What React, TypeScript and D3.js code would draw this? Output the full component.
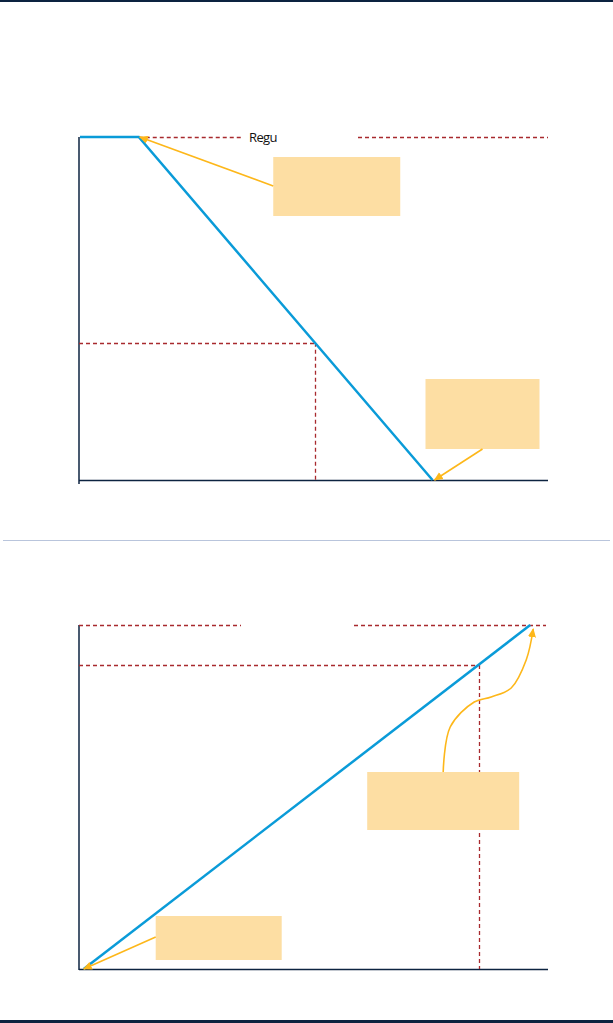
import React from "react";
import * as d3 from "d3";

// chart 1: phase-out line
const top_x = [0, 5, 30];
const top_y = [1, 1, 0];
const top_ref = [20, 0.4];
const top_label = "Regu";

// chart 2: rising line
const bot_x = [1, 96];
const bot_y = [0, 100];
const bot_ref = [85, 88.4];

const NAVY = "#0c2340";
const BLUE = "#0a9bd8";
const RED = "#a82a2e";
const ORANGE = "#fdb71a";
const NOTE = "#fddea3";

const px = (v: number) => Math.round(v) + 0.5;

const App = () => {
  const x1 = d3.scaleLinear().domain([0, 40]).range([80, 550]);
  const y1 = d3.scaleLinear().domain([0, 1]).range([480, 137]);
  const x2 = d3.scaleLinear().domain([0, 100]).range([79, 549]);
  const y2 = d3.scaleLinear().domain([0, 100]).range([969, 625]);

  const pts1 = top_x.map((d, i) => [d, top_y[i]]);
  const pts2 = bot_x.map((d, i) => [d, bot_y[i]]);
  const line1 = d3.line<number[]>().x(d => x1(d[0])).y(d => y1(d[1]));
  const line2 = d3.line<number[]>().x(d => x2(d[0])).y(d => y2(d[1]));

  // annotation boxes: offset from subject point (like d3-annotation)
  const s1 = [x1(5), y1(1)];
  const s2 = [x1(30), y1(0)];
  const s3 = [x2(96), y2(100)];
  const s4 = [x2(1), y2(0)];

  const curve = d3.line().curve(d3.curveCatmullRom);
  const c3 = [[-87, 147], [-80, 102], [-56, 77], [-39, 72], [-19, 63], [-4, 35], [3, 4]]
    .map(d => [s3[0] + d[0], s3[1] + d[1]] as [number, number]);

  const dash = "4,3";
  const dl = { stroke: RED, strokeWidth: 1.3, strokeDasharray: dash };

  return (
    <svg width={613} height={1023} style={{ position: "absolute", left: 0, top: 0 }}>
      <defs>
        <marker id="arr" viewBox="0 0 10 10" refX="9" refY="5" markerWidth="9" markerHeight="9" orient="auto" markerUnits="userSpaceOnUse">
          <path d="M0,0.5L10,5L0,9.5Z" fill={ORANGE} />
        </marker>
      </defs>
      <rect x={0} y={0} width={613} height={2} fill={NAVY} />
      <rect x={0} y={1020} width={613} height={3} fill={NAVY} />
      <line x1={3} x2={610} y1={540.5} y2={540.5} stroke="#b9c5dc" strokeWidth={1} />

      {/* chart 1 */}
      <line x1={79} x2={79} y1={137} y2={484} stroke={NAVY} strokeWidth={1.5} />
      <line x1={79} x2={548} y1={480.5} y2={480.5} stroke={NAVY} strokeWidth={1.5} />
      <line x1={x1(5)} x2={243} y1={px(y1(1))} y2={px(y1(1))} {...dl} />
      <line x1={358} x2={548} y1={px(y1(1))} y2={px(y1(1))} {...dl} />
      <text x={249} y={142} fontFamily="'Open Sans', sans-serif" fontSize={13} letterSpacing={-0.6} fill="#111">{top_label}</text>
      <line x1={79} x2={x1(top_ref[0])} y1={px(y1(top_ref[1]))} y2={px(y1(top_ref[1]))} {...dl} />
      <line x1={px(x1(top_ref[0]))} x2={px(x1(top_ref[0]))} y1={y1(top_ref[1])} y2={480} {...dl} />
      <path d={line1(pts1) || ""} fill="none" stroke={BLUE} strokeWidth={2.5} />

      <rect x={s1[0] + 134.5} y={s1[1] + 20} width={127} height={59} fill={NOTE} />
      <line x1={s1[0] + 134.5} y1={s1[1] + 49} x2={s1[0] + 1} y2={s1[1]} stroke={ORANGE} strokeWidth={1.6} markerEnd="url(#arr)" />
      <rect x={s2[0] - 7} y={s2[1] - 101} width={114} height={70} fill={NOTE} />
      <line x1={s2[0] + 50} y1={s2[1] - 31} x2={s2[0] + 2} y2={s2[1]} stroke={ORANGE} strokeWidth={1.6} markerEnd="url(#arr)" />

      {/* chart 2 */}
      <line x1={79} x2={79} y1={625} y2={970} stroke={NAVY} strokeWidth={1.5} />
      <line x1={79} x2={548} y1={969.5} y2={969.5} stroke={NAVY} strokeWidth={1.5} />
      <line x1={79} x2={241} y1={px(y2(100))} y2={px(y2(100))} {...dl} />
      <line x1={354} x2={546} y1={px(y2(100))} y2={px(y2(100))} {...dl} />
      <line x1={79} x2={x2(bot_ref[0])} y1={px(y2(bot_ref[1]))} y2={px(y2(bot_ref[1]))} {...dl} />
      <line x1={px(x2(bot_ref[0]))} x2={px(x2(bot_ref[0]))} y1={y2(bot_ref[1])} y2={969} {...dl} />
      <path d={line2(pts2) || ""} fill="none" stroke={BLUE} strokeWidth={2.5} />

      <rect x={s3[0] - 163} y={s3[1] + 147} width={152} height={58} fill={NOTE} />
      <path d={curve(c3) || ""} fill="none" stroke={ORANGE} strokeWidth={1.6} markerEnd="url(#arr)" />
      <rect x={s4[0] + 72} y={s4[1] - 53} width={126} height={44} fill={NOTE} />
      <line x1={s4[0] + 72} y1={s4[1] - 32} x2={s4[0]} y2={s4[1]} stroke={ORANGE} strokeWidth={1.6} markerEnd="url(#arr)" />
    </svg>
  );
};

export default App;
